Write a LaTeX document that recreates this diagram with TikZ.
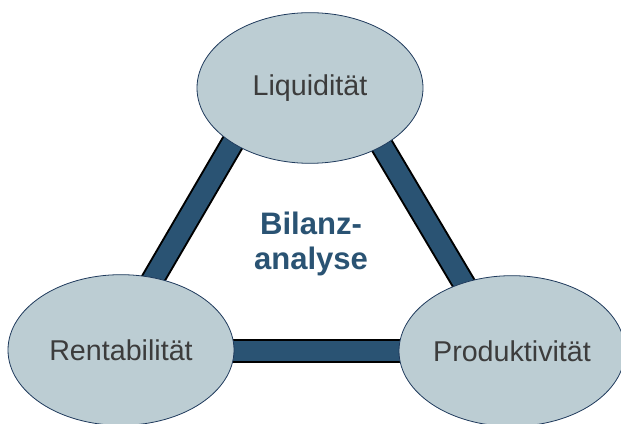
\documentclass[tikz,border=0pt]{standalone}
\usepackage{fontspec}
\setmainfont{Liberation Sans}
\usepackage{xcolor}
\usepackage{tikz}
\usetikzlibrary{
	shapes.geometric,
	positioning
}
\definecolor{ovalfill}{HTML}{BCCDD3}
\definecolor{ovaldraw}{HTML}{1F3A5C}
\definecolor{barblue}{HTML}{2A5373}
\definecolor{textgray}{HTML}{3C3C3C}

\begin{document}
\begin{tikzpicture}[x=0.75pt, y=-0.75pt,
		oval/.style={ellipse, draw=ovaldraw, line width=0.6pt, fill=ovalfill,
			minimum width=169.5pt, minimum height=113pt, inner sep=0pt,
			font=\fontsize{21.5}{24}\selectfont, text=textgray},
		barline/.style={line width=18pt, draw=black},
		barfill/.style={line width=15pt, draw=barblue}]
		\useasboundingbox (0,0) rectangle (621,424);
		
		% bar ends, hidden under the ovals
		\coordinate (TL) at (281,60);
		\coordinate (TR) at (331,60);
		\coordinate (L) at (111,351);
		\coordinate (R) at (504,351);
		
		\foreach \a/\b in {TL/L, L/R, TR/R} {
			\draw[barline] (\a) -- (\b);
			\draw[barfill] (\a) -- (\b);
		}
		
		\node[oval] (liq) at (310,88) {Liquidität};
		\node[oval] (rent) at (121,350) {Rentabilität};
		\node[oval] (prod) at (512,351) {Produktivität};
		
		\node[align=center, text=barblue, font=\bfseries\fontsize{23.3}{26}\selectfont] (bilanz) at (311,244) {Bilanz-\\analyse};
	\end{tikzpicture}
\end{document}
